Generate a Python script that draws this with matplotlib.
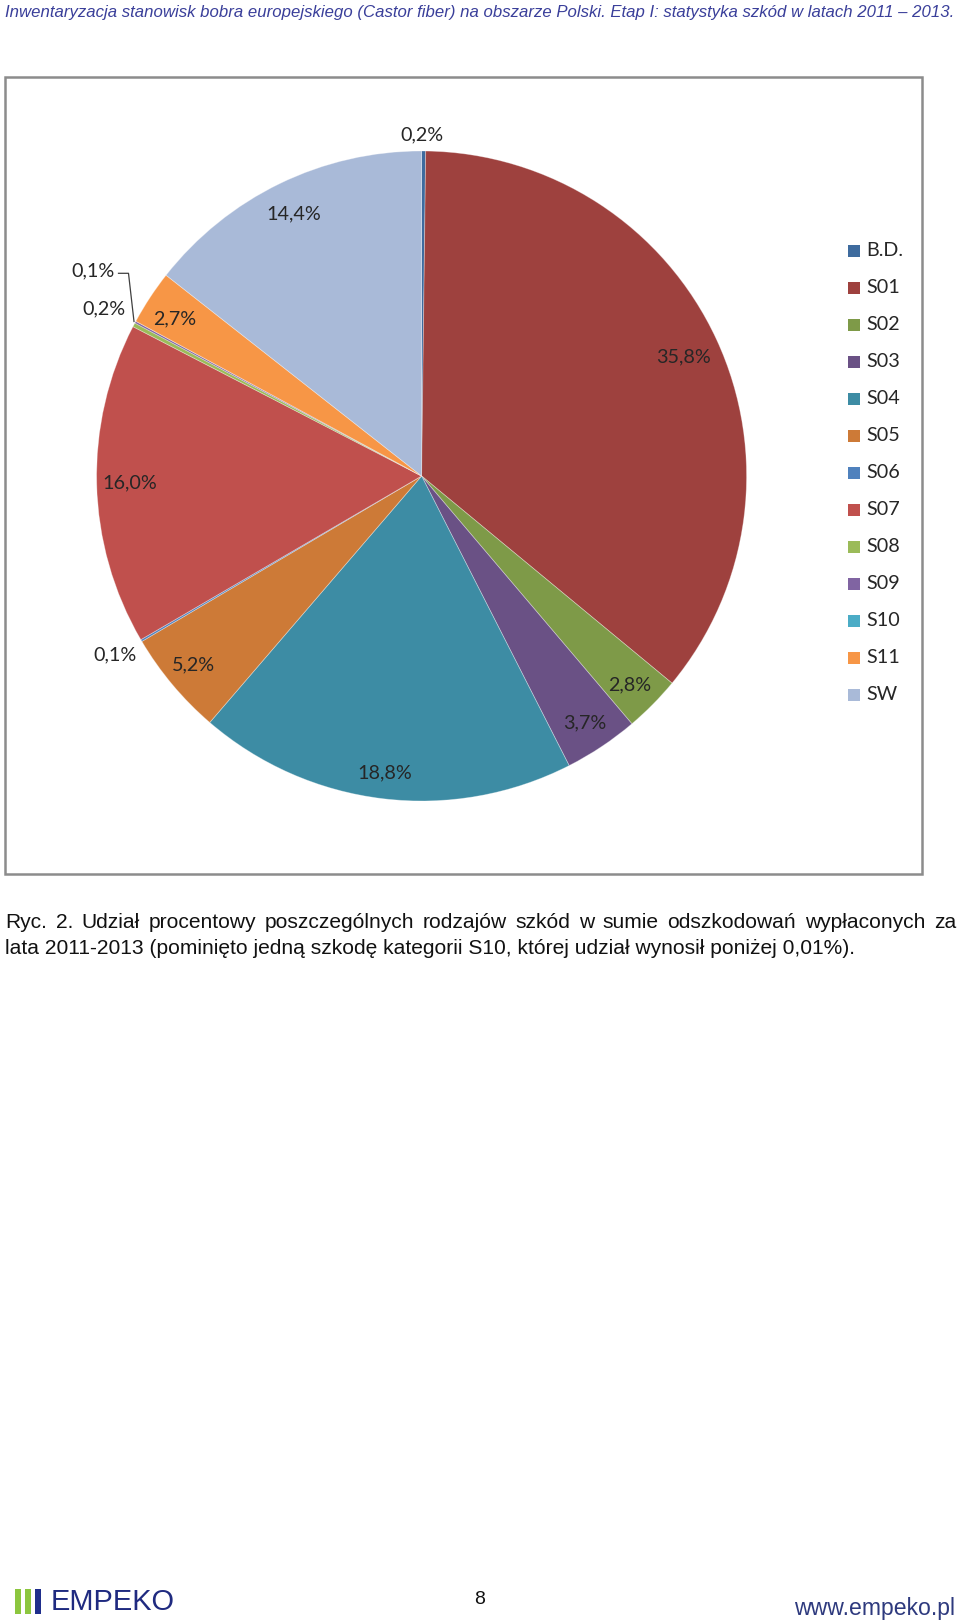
import matplotlib
matplotlib.use('Agg')
import matplotlib.pyplot as plt
from matplotlib.patches import Rectangle
from matplotlib import font_manager

# ---------------- data ----------------
categories = ['B.D.', 'S01', 'S02', 'S03', 'S04', 'S05', 'S06', 'S07',
              'S08', 'S09', 'S10', 'S11', 'SW']
shares = [0.2, 35.8, 2.8, 3.7, 18.8, 5.2, 0.1, 16.0, 0.2, 0.1, 0.0, 2.7, 14.4]
label_texts = ['0,2%', '35,8%', '2,8%', '3,7%', '18,8%', '5,2%', '0,1%', '16,0%',
               '0,2%', '0,1%', '', '2,7%', '14,4%']

header_text = ('Inwentaryzacja stanowisk bobra europejskiego (Castor fiber) na obszarze '
               'Polski. Etap I: statystyka szkód w latach 2011 – 2013.')
caption_line1 = ('Ryc. 2. Udział procentowy poszczególnych rodzajów szkód w sumie '
                 'odszkodowań wypłaconych za')
caption_line2 = ('lata 2011-2013 (pominięto jedną szkodę kategorii S10, której udział '
                 'wynosił poniżej 0,01%).')

# ---------------- styles / layout ----------------
colors = ['#3E6B9E', '#9E413E', '#7E9A48', '#6A5185', '#3D8CA4', '#CD7A37',
          '#4F81BD', '#C0504D', '#9BBB59', '#8064A2', '#4BACC6', '#F79646', '#A9BAD8']
# label positions in page pixels (x, y)
label_pos = [(421.7, 135), (683, 356.5), (629.3, 685), (585, 723), (384.5, 773),
             (193.3, 665), (115, 655), (130, 482.6), (104.3, 309.3), (93.3, 270.7),
             None, (175, 319.3), (293.5, 214)]

W, H = 960, 1621
fig = plt.figure(figsize=(W / 100, H / 100), dpi=100)
fig.patch.set_facecolor('white')

avail = {f.name for f in font_manager.fontManager.ttflist}
narrow = 'Liberation Sans Narrow' if 'Liberation Sans Narrow' in avail else 'Liberation Sans'
label_font = 'Lato' if 'Lato' in avail else 'DejaVu Sans'

# pie
cx, cy, R = 421.6, 476.0, 325.0
pax = fig.add_axes([(cx - R) / W, 1 - (cy + R) / H, 2 * R / W, 2 * R / H])
wedges, _ = pax.pie(shares, colors=colors, startangle=90, counterclock=False, radius=1,
                    wedgeprops=dict(edgecolor=(1, 1, 1, 0.35), linewidth=0.6))
pax.set_xlim(-1, 1)
pax.set_ylim(-1, 1)
pax.set_aspect('equal')
pax.axis('off')

# page overlay axes in pixel coords
bg = fig.add_axes([0, 0, 1, 1])
bg.set_xlim(0, W)
bg.set_ylim(H, 0)
bg.axis('off')

renderer = fig.canvas.get_renderer()


def fit_text(x, y, s, target_w, base=12, **kw):
    t = bg.text(x, y, s, fontsize=base, **kw)
    w = t.get_window_extent(renderer).width
    t.set_fontsize(base * target_w / w)
    return t


# chart frame
bg.add_patch(Rectangle((5, 77), 917, 797, fill=False, edgecolor='#8C8C8C', lw=1.8))

# data labels
for txt, pos in zip(label_texts, label_pos):
    if pos is None or not txt:
        continue
    bg.text(pos[0], pos[1], txt, ha='center', va='center', fontsize=14.2,
            family=label_font, color='#262626')
# leader line for the small slice
bg.plot([118.5, 128.5, 134], [273.3, 273.3, 321.5], color='#404040', lw=0.9)

# legend
for i, cat in enumerate(categories):
    y = 251 + i * 36.97
    bg.add_patch(Rectangle((848, y - 6), 12, 12, facecolor=colors[i], edgecolor='none'))
    bg.text(866, y, cat, ha='left', va='center', fontsize=14.2, family=label_font,
            color='#262626')

# header
fit_text(5, 12, header_text, 950, base=12, ha='left', va='center', style='italic',
         family=[narrow, 'DejaVu Sans'], color='#3A3F9A')

# caption
t2 = fit_text(5, 948, caption_line2, 850, base=12, ha='left', va='center',
              family=['Liberation Sans', 'DejaVu Sans'], color='#111111')
cap_fs = t2.get_fontsize()
words = caption_line1.split(' ')
texts = []
widths = []
for wd in words:
    t = bg.text(0, 922, wd, ha='left', va='center', fontsize=cap_fs,
                family=['Liberation Sans', 'DejaVu Sans'], color='#111111')
    texts.append(t)
    widths.append(t.get_window_extent(renderer).width)
gap = (956 - 5 - sum(widths)) / (len(words) - 1)
xx = 5
for t, w in zip(texts, widths):
    t.set_x(xx)
    xx += w + gap

# footer
bar_cols = ['#8CC63E', '#8CC63E', '#1F2E8C']
for i, c in enumerate(bar_cols):
    bg.add_patch(Rectangle((15 + i * 10, 1589), 5.7, 25, facecolor=c, edgecolor='none'))
fit_text(51, 1602, 'EMPEKO', 124, base=20, ha='left', va='center',
         family=[narrow, 'DejaVu Sans'], color='#1F2A80')
bg.text(479.5, 1600, '8', ha='center', va='center', fontsize=14,
        family='Liberation Sans', color='#111111')
fit_text(955, 1609, 'www.empeko.pl', 162, base=14, ha='right', va='center',
         family=[narrow, 'DejaVu Sans'], color='#2E3A7E')

fig.savefig('out.png', dpi=100, facecolor='white')
